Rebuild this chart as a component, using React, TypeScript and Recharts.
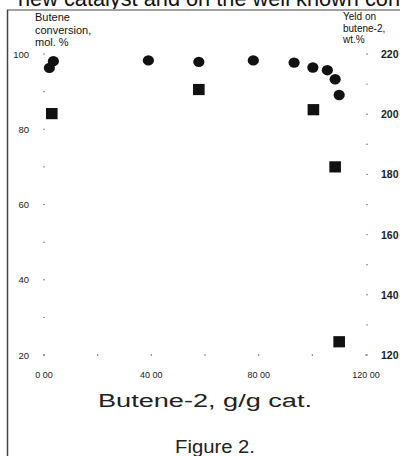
import React from "react";
import { ScatterChart, Scatter, XAxis, YAxis } from "recharts";

// circles: butene conversion (left axis)
const conversionLoad = [2.0, 3.5, 38.9, 57.7, 78.0, 93.2, 100.2, 105.6, 108.5, 110.0];
const conversion = [96.3, 98.1, 98.3, 97.9, 98.3, 97.7, 96.4, 95.7, 93.3, 89.1];

// squares: yield on butene-2 (right axis)
const yieldLoad = [2.9, 57.7, 100.4, 108.5, 110.0];
const yieldValues = [200.2, 208.2, 201.5, 182.5, 124.4];

const xTicks = [0, 20, 40, 60, 80, 100, 120];
const xTickLabels = ["0 00", "", "40 00", "", "80 00", "", "120 00"];
const leftTicks = [20, 30, 40, 50, 60, 70, 80, 90, 100];
const leftTickLabels = ["20", "", "40", "", "60", "", "80", "", "100"];
const rightTicks = [120, 130, 140, 150, 160, 170, 180, 190, 200, 210, 220];
const rightTickLabels = ["120", "", "140", "", "160", "", "180", "", "200", "", "220"];

const conversionData = conversionLoad.map((x, i) => ({ x, y: conversion[i] }));
const yieldData = yieldLoad.map((x, i) => ({ x, y: yieldValues[i] }));

const W = 400;
const H = 456;
const PLOT_LEFT = 44;
const PLOT_RIGHT = 366;
const PLOT_TOP = 54;
const PLOT_BOTTOM = 355;
const FONT = "'Liberation Sans', Arial, sans-serif";

const XTick = (props: any) => {
  const { x, payload } = props;
  const label = xTickLabels[xTicks.indexOf(payload.value)];
  return (
    <g>
      <circle cx={x} cy={PLOT_BOTTOM} r={0.7} fill="#555" />
      {label && (
        <text x={x} y={378} textAnchor="middle" fontSize={9} fontFamily={FONT} fill="#222">
          {label}
        </text>
      )}
    </g>
  );
};

const LeftTick = (props: any) => {
  const { y, payload } = props;
  const label = leftTickLabels[leftTicks.indexOf(payload.value)];
  return (
    <g>
      <circle cx={PLOT_LEFT} cy={y} r={0.7} fill="#555" />
      {label && (
        <text x={29} y={y + 3.5} textAnchor="end" fontSize={9.5} fontFamily={FONT} fill="#222">
          {label}
        </text>
      )}
    </g>
  );
};

const RightTick = (props: any) => {
  const { y, payload } = props;
  const label = rightTickLabels[rightTicks.indexOf(payload.value)];
  return (
    <g>
      <circle cx={PLOT_RIGHT + 1} cy={y} r={0.7} fill="#555" />
      {label && (
        <text x={381} y={y + 4} textAnchor="start" fontSize={10.5} fontWeight="bold" fontFamily={FONT} fill="#222">
          {label}
        </text>
      )}
    </g>
  );
};

const Dot = (p: any) => <ellipse cx={p.cx} cy={p.cy} rx={5.6} ry={5.2} fill="#111" />;
const Box = (p: any) => <rect x={p.cx - 5.8} y={p.cy - 5.6} width={11.6} height={11.2} fill="#111" />;

export default function App() {
  return (
    <div style={{ position: "absolute", left: 0, top: 0, width: W, height: H, background: "#fff" }}>
      <ScatterChart
        width={W}
        height={H}
        margin={{ top: PLOT_TOP, bottom: H - PLOT_BOTTOM - 30, left: PLOT_LEFT - 30, right: W - PLOT_RIGHT - 30 }}
      >
        <XAxis
          type="number"
          dataKey="x"
          domain={[0, 120]}
          ticks={xTicks}
          height={30}
          axisLine={false}
          tickLine={false}
          tick={<XTick />}
          interval={0}
        />
        <YAxis
          yAxisId="left"
          type="number"
          dataKey="y"
          domain={[20, 100]}
          ticks={leftTicks}
          width={30}
          axisLine={false}
          tickLine={false}
          tick={<LeftTick />}
          interval={0}
        />
        <YAxis
          yAxisId="right"
          orientation="right"
          type="number"
          dataKey="y"
          domain={[120, 220]}
          ticks={rightTicks}
          width={30}
          axisLine={false}
          tickLine={false}
          tick={<RightTick />}
          interval={0}
        />
        <Scatter yAxisId="left" data={conversionData} shape={<Dot />} isAnimationActive={false} />
        <Scatter yAxisId="right" data={yieldData} shape={<Box />} isAnimationActive={false} />
      </ScatterChart>

      <svg
        width={W}
        height={H}
        style={{ position: "absolute", left: 0, top: 0, pointerEvents: "none" }}
        fontFamily={FONT}
      >
        {/* tail of the text above the figure in the scanned page */}
        <text x={18} y={6} fontSize={22} fill="#111" textLength={382} lengthAdjust="spacingAndGlyphs">
          new catalyst and on the well known con
        </text>
        <rect x={0} y={9} width={W} height={2} fill="#fff" />
        <line x1={7} y1={10} x2={W} y2={10} stroke="#444" strokeWidth={1.2} />
        <line x1={7.5} y1={10} x2={7.5} y2={H} stroke="#444" strokeWidth={1.5} />

        <g fontSize={11} fill="#111">
          <text x={35} y={21}>Butene</text>
          <text x={35} y={34}>conversion,</text>
          <text x={35} y={46}>mol. %</text>
        </g>
        <g fontSize={10} fill="#111">
          <text x={343} y={20}>Yeld on</text>
          <text x={343} y={32}>butene-2,</text>
          <text x={343} y={43}>wt.%</text>
        </g>

        <text x={98} y={407} fontSize={18} fill="#222" textLength={214} lengthAdjust="spacingAndGlyphs">
          Butene-2, g/g cat.
        </text>
        <text x={175} y={453} fontSize={18} fill="#222" textLength={80} lengthAdjust="spacingAndGlyphs">
          Figure 2.
        </text>
      </svg>
    </div>
  );
}
